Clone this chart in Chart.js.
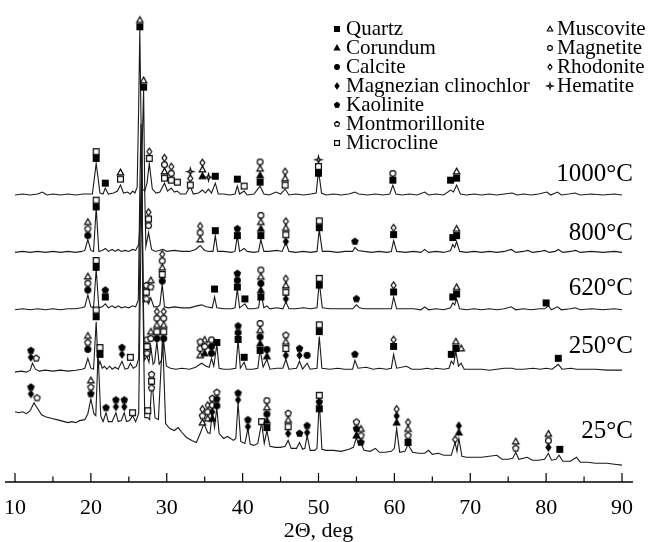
<!DOCTYPE html>
<html>
<head>
<meta charset="utf-8">
<script src="https://cdn.jsdelivr.net/npm/chart.js@4.4.1/dist/chart.umd.min.js"></script>
<style>
  body { margin: 0; background: #fff; }
  canvas { display: block; }
</style>
</head>
<body>
<canvas id="xrd" width="650" height="542"></canvas>
<script>
// XRD patterns of the clay sample after firing, shifted vertically for clarity.
// Each pattern: [2theta, intensity above its own baseline]
const temperatures = ['1000°C', '800°C', '620°C', '250°C', '25°C'];
const offsets = [290, 232, 174, 113, 17];

const pattern1000 = [[10,0],[11,1],[12,0],[13,1],[13.6,3],[14.2,0],[15,1],[16,0],[17,1],[18,0],[19,1],[20.2,1],[20.7,32],[21.2,2],[21.6,1],[21.9,7],[22.3,1],[23,2],[23.5,4],[23.9,10],[24.3,2],[24.8,3],[25.2,1],[25.5,4],[25.8,2],[26.1,8],[26.3,90],[26.45,167],[26.6,80],[26.8,6],[27.1,4],[27.4,12],[27.7,32],[28.1,6],[28.6,2],[29.1,3],[29.7,12],[30.1,4],[30.6,7],[31,3],[31.4,4],[31.8,1],[32.5,1],[33.1,9],[33.5,1],[34.2,2],[34.7,5],[35.1,2],[35.5,6],[35.9,2],[36.4,12],[36.8,1],[37.5,1],[38.3,0],[39.0,1],[39.3,9],[39.6,1],[40.2,4],[40.6,0],[41.5,1],[42.3,9],[42.8,1],[43.5,0],[44.4,3],[45.0,1],[45.6,6],[46.1,0],[47,1],[48,0],[49,1],[49.7,2],[50.0,25],[50.4,2],[51,0],[52,1],[53,0],[54,1],[54.8,3],[55.3,1],[56.5,0],[57.5,1],[58.5,0],[59.4,1],[59.8,10],[60.2,1],[61,0],[62,1],[63,0],[64,3],[64.5,0],[65.5,1],[66.5,0],[67.4,5],[67.8,3],[68.2,10],[68.7,1],[69.5,0],[70.5,1],[71.5,0],[72.5,1],[73.5,0],[74.5,1],[75.5,2],[76.2,0],[77,1],[78,0],[79,1],[80.1,3],[80.6,0],[81.5,3],[82,0],[83,1],[83.8,2],[84.5,0],[86,1],[87.5,0],[89,1],[90,0]];

const pattern800 = [[10,0],[11,1],[12,0],[13,1],[14,0],[15,1],[16,0],[17,1],[18,0],[18.8,1],[19.2,2],[19.6,13],[20.0,2],[20.35,1],[20.7,45],[21.05,1],[21.5,2],[21.9,4],[22.3,1],[22.8,3],[23.2,1],[23.6,3],[24.0,1],[24.5,2],[25.0,1],[25.5,3],[25.9,2],[26.3,8],[26.6,40],[26.8,120],[26.95,165],[27.1,60],[27.25,6],[27.6,20],[28.0,3],[28.5,1],[29.0,2],[29.5,3],[30,1],[31,2],[32,1],[33,1],[33.8,3],[34.4,7],[35,2],[35.6,1],[36.1,1],[36.4,17],[36.7,1],[37.5,1],[38.5,0],[39.0,1],[39.3,17],[39.6,1],[40.2,4],[40.6,1],[41.5,0],[42.1,1],[42.4,13],[42.8,1],[43.5,1],[44.5,2],[45.2,1],[45.7,10],[46.1,1],[47,0],[48,1],[49,0],[49.8,1],[50.1,23],[50.5,1],[51.5,1],[52.5,0],[53.5,1],[54.5,1],[54.8,5],[55.2,2],[56,1],[57,0],[58,1],[59,0],[59.6,1],[59.9,12],[60.3,1],[61.5,0],[62.5,1],[63.5,0],[64,3],[64.5,0],[65.5,1],[66.5,0],[67.4,2],[67.7,8],[67.95,5],[68.2,11],[68.6,1],[69.5,0],[70.5,1],[71.5,0],[72.5,1],[73.5,0],[74.5,1],[75.4,3],[76,0],[77,1],[77.6,2],[78.2,0],[79.2,1],[79.8,2],[80.4,0],[81.2,1],[81.6,3],[82.2,0],[83.2,1],[83.9,2],[84.5,0],[86,1],[87.5,0],[89,1],[90,0]];

const pattern620 = [[10,0],[11,1],[12,0],[13,1],[14,0],[15,1],[16,0],[17,1],[18,1],[18.8,2],[19.2,3],[19.6,15],[20.0,3],[20.35,2],[20.7,41],[21.05,2],[21.5,3],[21.9,6],[22.3,2],[22.8,4],[23.2,2],[23.6,4],[24.0,2],[24.5,3],[25.0,2],[25.5,4],[25.9,3],[26.25,10],[26.45,120],[26.6,188],[26.75,90],[26.9,8],[27.3,10],[27.6,6],[27.9,12],[28.3,3],[28.8,3],[29.1,5],[29.4,26],[29.7,3],[30.2,2],[31,3],[32,2],[33,2],[34,4],[34.6,5],[35.2,3],[36.0,2],[36.3,13],[36.6,2],[37.5,1],[38.5,1],[39.0,2],[39.3,21],[39.6,2],[40.3,6],[40.7,1],[41.5,1],[42.1,2],[42.4,18],[42.8,2],[43.2,4],[43.6,1],[44.5,2],[45.3,1],[45.7,8],[46.1,1],[47,1],[48,2],[49,1],[49.8,2],[50.1,28],[50.5,2],[51.5,1],[52.5,1],[53.5,1],[54.5,1],[55.0,5],[55.4,2],[56,1],[57,1],[58,1],[59,1],[59.6,1],[59.9,13],[60.3,1],[61.5,1],[62.5,1],[63.5,0],[64,3],[64.5,0],[65.5,1],[66.5,0],[67.4,2],[67.7,7],[67.95,5],[68.2,11],[68.6,1],[69.5,0],[70.5,1],[71.5,0],[72.5,1],[73.5,0],[74.5,1],[75.4,3],[76,0],[77,1],[78,0],[79.2,1],[79.8,1],[80.3,4],[80.7,0],[81.5,3],[82.0,0],[83.2,1],[83.8,2],[84.5,0],[86,1],[87.5,0],[89,1],[90,0]];

const pattern250 = [[10,-2],[10.8,-1],[11.5,-2],[12.0,0],[12.3,7],[12.7,1],[13.2,-1],[14,0],[15,-1],[16,0],[17,-1],[18,0],[18.8,1],[19.2,2],[19.6,12],[20.0,2],[20.35,1],[20.7,49],[20.95,3],[21.2,9],[21.5,2],[21.8,4],[22.1,1],[22.5,4],[22.8,1],[23.2,3],[23.6,1],[24.1,9],[24.5,1],[24.9,2],[25.2,7],[25.6,2],[26.0,4],[26.3,12],[26.5,150],[26.7,219],[26.85,100],[27.05,10],[27.4,14],[27.65,8],[27.9,24],[28.2,6],[28.4,8],[28.7,29],[29.0,6],[29.3,10],[29.6,29],[29.95,4],[30.5,2],[31.2,1],[32,2],[33,1],[33.8,3],[34.6,7],[35.2,4],[35.6,3],[35.9,12],[36.2,4],[36.6,26],[36.9,2],[37.5,1],[38.3,1],[39.1,2],[39.4,31],[39.7,2],[40.2,8],[40.5,1],[41.3,1],[42.0,2],[42.3,21],[42.7,3],[43.2,11],[43.6,1],[44.5,2],[45.3,2],[45.7,11],[46.1,1],[47.1,2],[47.5,9],[47.9,1],[48.5,7],[48.9,1],[49.8,2],[50.1,34],[50.45,2],[51.5,1],[52.5,2],[53.5,1],[54.5,1],[54.8,10],[55.2,2],[56.3,3],[57.2,1],[58,2],[59,1],[59.6,2],[59.9,16],[60.3,2],[61.6,4],[62.3,1],[63.5,1],[64.3,2],[65,1],[65.5,2],[66.5,1],[67.2,2],[67.5,9],[67.8,6],[68.1,19],[68.45,4],[68.8,7],[69.2,1],[70.5,1],[71.5,1],[72.5,0],[73.5,1],[74.5,2],[75.5,2],[76,1],[77,1],[78.3,2],[79.2,1],[80,2],[80.8,1],[81.6,6],[82.1,1],[83.3,2],[84,1],[85,1],[86.5,1],[88,0],[90,0]];

const pattern25 = [[10,54],[10.5,53],[11,54],[11.5,52],[12.0,55],[12.5,63],[13.0,57],[13.5,51],[14,49],[14.5,48],[15,47],[15.5,46],[16,45],[16.5,44],[17,43],[17.5,44],[18,43],[18.5,45],[19.2,46],[19.6,52],[20.0,67],[20.4,52],[20.65,50],[20.95,113],[21.3,50],[21.6,44],[22.0,53],[22.3,44],[22.8,44],[23.3,53],[23.6,44],[24.0,45],[24.4,53],[24.7,44],[25.1,45],[25.5,50],[25.9,44],[26.3,52],[26.55,200],[26.75,285],[26.9,150],[27.1,48],[27.5,48],[27.75,46],[28.05,87],[28.45,48],[28.9,46],[29.45,130],[29.85,42],[30.4,37],[31,35],[31.5,38],[32,33],[32.6,28],[33.3,25],[33.9,23],[34.3,30],[34.9,42],[35.4,33],[35.7,32],[36.0,53],[36.3,38],[36.6,58],[36.9,32],[37.5,27],[38,29],[38.8,25],[39.1,27],[39.4,63],[39.75,24],[40.3,22],[40.7,37],[41.0,21],[41.5,20],[42.0,22],[42.5,43],[42.85,22],[43.2,35],[43.6,19],[44.3,18],[45,18],[45.6,19],[46.0,25],[46.4,17],[47.1,17],[47.5,23],[47.9,16],[48.2,17],[48.5,30],[48.9,15],[49.5,15],[49.8,17],[50.1,65],[50.45,16],[51,15],[52,15],[53,14],[54,16],[54.6,18],[55.0,28],[55.3,20],[55.6,22],[56.0,15],[56.8,14],[57.5,17],[58.0,13],[58.8,13],[59.6,14],[60.0,17],[60.3,37],[60.7,13],[61.4,14],[61.8,21],[62.4,13],[63.2,12],[64,12],[64.5,15],[65,11],[65.8,12],[66.5,10],[67.5,10],[68.0,23],[68.25,14],[68.5,27],[68.9,9],[69.5,8],[70.5,8],[71.5,8],[72.5,9],[73.5,10],[74.2,6],[75,6],[75.6,7],[76.0,13],[76.4,6],[77.5,8],[78.2,5],[79,5],[79.8,6],[80.3,12],[80.7,5],[81.3,6],[81.7,10],[82.2,4],[83.2,4],[84,8],[84.5,3],[85.5,3],[86.5,2],[88,2],[89,1],[90,0]];

// Phase identification: [2theta, level of lowest symbol, phase codes bottom to top]
const marks1000 = [[20.7,37,'qx'],[21.9,12,'q'],[23.9,16,'xu'],[26.45,170,'qu'],[27.7,37,'xh'],[29.7,17,'xuth'],[30.6,15,'xth'],[31.4,13,'x'],[33.1,10,'xhe'],[34.7,19,'ruh'],[35.5,18,'e'],[36.4,19,'q'],[39.3,16,'q'],[40.2,9,'x'],[42.3,13,'qrut'],[45.6,10,'xuh'],[50.0,22,'qxe'],[59.8,15,'qt'],[67.4,15,'q'],[68.2,17,'qu']];
const marks800 = [[19.6,17,'cmu'],[20.7,46,'qx'],[26.95,167,'qu'],[27.6,27,'txh'],[34.4,13,'uth'],[36.4,22,'q'],[39.3,17,'qk'],[42.4,17,'qrut'],[45.7,11,'gxuh'],[50.1,25,'qx'],[54.8,11,'k'],[59.9,18,'qh'],[67.7,15,'q'],[68.2,17,'qu']];
const marks620 = [[19.6,20,'ctu'],[20.7,43,'qx'],[21.9,13,'qk'],[27.3,11,'mxm'],[27.9,23,'mu'],[29.4,29,'cxuth'],[36.3,21,'q'],[39.3,23,'qck'],[40.3,11,'q'],[42.4,13,'qrcut'],[45.7,11,'gxuh'],[50.1,25,'qx'],[55.0,11,'k'],[59.9,18,'qh'],[67.7,13,'q'],[68.2,16,'qu'],[80.0,7,'q']];
const marks250 = [[12.1,13,'gk'],[12.8,12,'m'],[19.6,21,'cmu'],[20.7,54,'qx'],[21.2,16,'qx'],[24.1,16,'gk'],[25.2,13,'x'],[27.4,17,'mxt'],[27.9,32,'tu'],[28.7,32,'cxuth'],[29.6,32,'cxuth'],[34.4,15,'utm'],[35.0,17,'rtu'],[35.9,17,'cct'],[36.6,28,'q'],[39.4,31,'qck'],[40.2,13,'q'],[42.3,20,'qrcut'],[43.2,14,'rc'],[45.7,15,'gxum'],[47.5,15,'gk'],[48.5,15,'c'],[50.1,39,'qx'],[54.8,16,'k'],[59.9,24,'qh'],[67.5,16,'q'],[68.1,22,'qu'],[68.8,22,'u'],[81.6,12,'q']];
const marks25 = [[12.1,72,'gk'],[12.9,68,'m'],[20.0,72,'kmu'],[22.0,58,'k'],[23.3,59,'gk'],[24.4,59,'gk'],[25.5,53,'x'],[27.5,55,'x'],[28.0,78,'mxm'],[34.7,43,'umh'],[35.4,47,'uth'],[36.0,47,'rgtm'],[36.6,60,'ckm'],[39.4,66,'gk'],[40.7,39,'gk'],[42.5,44,'x'],[43.2,38,'qrcut'],[46.0,32,'gxum'],[47.5,32,'k'],[48.5,33,'gk'],[50.1,57,'qkx'],[55.0,30,'rkm'],[55.6,23,'kmu'],[60.3,43,'rgh'],[61.8,23,'qmuh'],[68.0,26,'h'],[68.5,33,'rg'],[76.0,17,'mu'],[80.3,18,'gtu'],[81.8,16,'q']];

const phaseNames = ['Quartz', 'Corundum', 'Calcite', 'Magnezian clinochlor', 'Kaolinite', 'Montmorillonite', 'Microcline', 'Muscovite', 'Magnetite', 'Rhodonite', 'Hematite'];
const phaseCodes = ['q', 'r', 'c', 'g', 'k', 'm', 'x', 'u', 't', 'h', 'e'];

const patterns = [pattern1000, pattern800, pattern620, pattern250, pattern25];
const marks = [marks1000, marks800, marks620, marks250, marks25];

// marker shapes per phase: [shape, filled]
const phaseShapes = [['square', 1], ['triangle', 1], ['circle', 1], ['diamond', 1], ['pentagon', 1], ['pentagon', 0],
  ['square', 0], ['triangle', 0], ['circle', 0], ['diamond', 0], ['star', 0]];

function symbol(shape, filled, s) {
  const c = document.createElement('canvas');
  c.width = c.height = Math.ceil(s * 2) + 4;
  const g = c.getContext('2d');
  const m = c.width / 2;
  g.beginPath();
  if (shape === 'square') {
    g.rect(m - s * 0.85, m - s * 0.85, s * 1.7, s * 1.7);
  } else if (shape === 'triangle') {
    g.moveTo(m, m - s);
    g.lineTo(m + s * 0.95, m + s * 0.7);
    g.lineTo(m - s * 0.95, m + s * 0.7);
    g.closePath();
  } else if (shape === 'circle') {
    g.arc(m, m, s * 0.85, 0, Math.PI * 2);
  } else if (shape === 'diamond') {
    g.moveTo(m, m - s);
    g.lineTo(m + s * 0.72, m);
    g.lineTo(m, m + s);
    g.lineTo(m - s * 0.72, m);
    g.closePath();
  } else if (shape === 'pentagon') {
    for (let i = 0; i < 5; i++) {
      const a = -Math.PI / 2 + i * 2 * Math.PI / 5;
      g.lineTo(m + Math.cos(a) * s * 0.95, m + Math.sin(a) * s * 0.95);
    }
    g.closePath();
  } else {
    for (let i = 0; i < 8; i++) {
      const a = -Math.PI / 2 + i * Math.PI / 4;
      const r = i % 2 ? s * 0.32 : s * 1.05;
      g.lineTo(m + Math.cos(a) * r, m + Math.sin(a) * r);
    }
    g.closePath();
  }
  g.fillStyle = filled ? '#000' : '#fff';
  g.fill();
  g.lineWidth = 1.15;
  g.strokeStyle = '#000';
  g.stroke();
  return c;
}

const plotSymbols = phaseShapes.map(([sh, f]) => symbol(sh, f, 3.4));
const legendSymbols = phaseShapes.map(([sh, f]) => symbol(sh, f, 2.8));

const datasets = [];

patterns.forEach((p, i) => {
  datasets.push({
    label: temperatures[i],
    data: p.map(([t, v]) => ({ x: t, y: v + offsets[i] })),
    showLine: true,
    borderColor: '#1a1a1a',
    borderWidth: 1.1,
    pointRadius: 0,
    tension: 0,
    order: 2
  });
});

phaseCodes.forEach((code, k) => {
  const pts = [];
  marks.forEach((list, i) => {
    list.forEach(([t, base, codes]) => {
      [...codes].forEach((cc, j) => {
        if (cc === code) pts.push({ x: t, y: offsets[i] + base + j * 6.8 });
      });
    });
  });
  datasets.push({
    label: phaseNames[k],
    data: pts,
    showLine: false,
    pointStyle: plotSymbols[k],
    pointRadius: 3,
    order: 1
  });
});

const labelLift = [14, 13, 15, 17, 27];

const decorations = {
  id: 'decorations',
  afterDraw(chart) {
    const { ctx, chartArea: a, scales: { x, y } } = chart;
    ctx.save();
    // bottom axis with inward ticks
    ctx.strokeStyle = '#000';
    ctx.lineWidth = 1.3;
    ctx.beginPath();
    ctx.moveTo(a.left - 10, a.bottom);
    ctx.lineTo(a.right + 11, a.bottom);
    ctx.stroke();
    ctx.lineWidth = 1.2;
    x.ticks.forEach(t => {
      const px = x.getPixelForValue(t.value);
      const len = t.value % 10 === 0 ? 9 : 5.5;
      ctx.beginPath();
      ctx.moveTo(px, a.bottom);
      ctx.lineTo(px, a.bottom - len);
      ctx.stroke();
    });

    // temperature of each pattern
    ctx.fillStyle = '#000';
    ctx.font = '25px "Liberation Serif", "Times New Roman", serif';
    ctx.textAlign = 'right';
    ctx.textBaseline = 'alphabetic';
    temperatures.forEach((txt, i) => {
      ctx.fillText(txt, a.right + 11, y.getPixelForValue(offsets[i] + labelLift[i]));
    });

    // phase key, two columns
    ctx.font = '21px "Liberation Serif", "Times New Roman", serif';
    ctx.textAlign = 'left';
    phaseNames.forEach((name, k) => {
      const col = k < 7 ? 0 : 1;
      const row = k < 7 ? k : k - 7;
      const sx = col ? 550 : 337;
      const tx = col ? 557 : 346;
      const by = 35 + row * 19;
      const img = legendSymbols[k];
      ctx.drawImage(img, sx - img.width / 2, by - 6 - img.height / 2);
      ctx.fillText(name, tx, by);
    });
    ctx.restore();
  }
};

new Chart(document.getElementById('xrd'), {
  type: 'scatter',
  data: { datasets },
  options: {
    responsive: false,
    animation: false,
    layout: { padding: { left: 15, right: 28, top: 0, bottom: 0 } },
    plugins: { legend: { display: false }, tooltip: { enabled: false } },
    scales: {
      x: {
        type: 'linear',
        min: 10,
        max: 90,
        grid: { display: false, drawTicks: false },
        border: { display: false },
        ticks: {
          stepSize: 5,
          autoSkip: false,
          maxRotation: 0,
          padding: 4,
          color: '#000',
          font: { family: 'Liberation Serif', size: 22, lineHeight: 2 },
          callback: v => (v % 10 === 0 ? v : '')
        },
        title: {
          display: true,
          text: '2Θ, deg',
          color: '#000',
          font: { family: 'Liberation Serif', size: 22, lineHeight: 1 },
          padding: { top: -14, bottom: 0 }
        }
      },
      y: { display: false, min: 0, max: 482 }
    }
  },
  plugins: [decorations]
});
</script>
</body>
</html>
